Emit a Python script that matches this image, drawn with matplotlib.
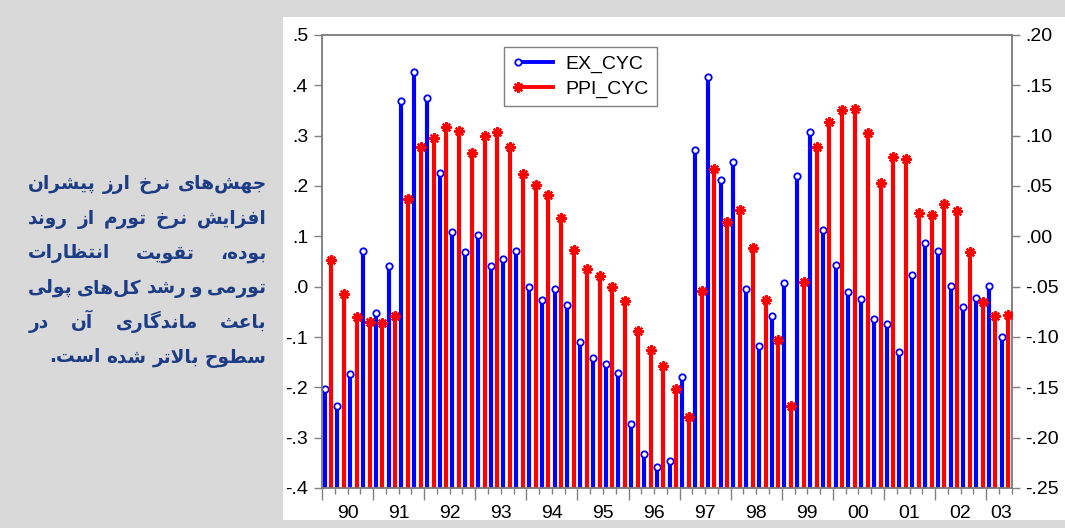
import matplotlib
matplotlib.use("Agg")
import matplotlib.pyplot as plt
import numpy as np
from matplotlib.legend_handler import HandlerLine2D
from matplotlib.lines import Line2D
from matplotlib.patches import Rectangle
from matplotlib.ticker import FuncFormatter

plt.rcParams['font.family'] = ['Liberation Sans', 'DejaVu Sans']

# quarterly data 1990Q1 - 2003Q2
year_labels = ["90", "91", "92", "93", "94", "95", "96", "97", "98", "99", "00", "01", "02", "03"]
ex_cyc = [-0.203, -0.238, -0.174, 0.071,
          -0.053, 0.042, 0.369, 0.427,
          0.375, 0.225, 0.109, 0.069,
          0.103, 0.042, 0.054, 0.071,
          0.000, -0.026, -0.005, -0.036,
          -0.110, -0.142, -0.154, -0.171,
          -0.273, -0.333, -0.359, -0.347,
          -0.180, 0.271, 0.417, 0.212,
          0.247, -0.005, -0.118, -0.058,
          0.007, 0.220, 0.307, 0.113,
          0.043, -0.010, -0.025, -0.064,
          -0.074, -0.129, 0.023, 0.087,
          0.070, 0.001, -0.041, -0.023,
          0.002, -0.100]
ppi_cyc = [-0.024, -0.057, -0.080, -0.085,
           -0.086, -0.079, 0.037, 0.089,
           0.098, 0.109, 0.105, 0.083,
           0.100, 0.104, 0.089, 0.062,
           0.051, 0.041, 0.018, -0.014,
           -0.032, -0.039, -0.050, -0.064,
           -0.094, -0.113, -0.129, -0.152,
           -0.179, -0.054, 0.067, 0.014,
           0.026, -0.012, -0.063, -0.103,
           -0.169, -0.045, 0.089, 0.114,
           0.125, 0.126, 0.103, 0.053,
           0.079, 0.077, 0.023, 0.021,
           0.032, 0.025, -0.016, -0.065,
           -0.079, -0.078]

note_lines = [
    "جهش‌های نرخ ارز پیشران",
    "افزایش نرخ تورم از روند",
    "بوده، تقویت انتظارات",
    "تورمی و رشد کل‌های پولی",
    "باعث ماندگاری آن در",
    "سطوح بالاتر شده است.",
]

# --- tiny arabic/persian shaper (matplotlib has no text shaping) ---
# isolated, final, initial, medial
FORMS = {
    'ا': ('\uFE8D', '\uFE8E', None, None),
    'آ': ('\uFE81', '\uFE82', None, None),
    'ب': ('\uFE8F', '\uFE90', '\uFE91', '\uFE92'),
    'پ': ('\uFB56', '\uFB57', '\uFB58', '\uFB59'),
    'ت': ('\uFE95', '\uFE96', '\uFE97', '\uFE98'),
    'ث': ('\uFE99', '\uFE9A', '\uFE9B', '\uFE9C'),
    'ج': ('\uFE9D', '\uFE9E', '\uFE9F', '\uFEA0'),
    'ح': ('\uFEA1', '\uFEA2', '\uFEA3', '\uFEA4'),
    'خ': ('\uFEA5', '\uFEA6', '\uFEA7', '\uFEA8'),
    'د': ('\uFEA9', '\uFEAA', None, None),
    'ر': ('\uFEAD', '\uFEAE', None, None),
    'ز': ('\uFEAF', '\uFEB0', None, None),
    'س': ('\uFEB1', '\uFEB2', '\uFEB3', '\uFEB4'),
    'ش': ('\uFEB5', '\uFEB6', '\uFEB7', '\uFEB8'),
    'ط': ('\uFEC1', '\uFEC2', '\uFEC3', '\uFEC4'),
    'ظ': ('\uFEC5', '\uFEC6', '\uFEC7', '\uFEC8'),
    'ع': ('\uFEC9', '\uFECA', '\uFECB', '\uFECC'),
    'ف': ('\uFED1', '\uFED2', '\uFED3', '\uFED4'),
    'ق': ('\uFED5', '\uFED6', '\uFED7', '\uFED8'),
    'ک': ('\uFB8E', '\uFB8F', '\uFB90', '\uFB91'),
    'گ': ('\uFB92', '\uFB93', '\uFB94', '\uFB95'),
    'ل': ('\uFEDD', '\uFEDE', '\uFEDF', '\uFEE0'),
    'م': ('\uFEE1', '\uFEE2', '\uFEE3', '\uFEE4'),
    'ن': ('\uFEE5', '\uFEE6', '\uFEE7', '\uFEE8'),
    'ه': ('\uFEE9', '\uFEEA', '\uFEEB', '\uFEEC'),
    'و': ('\uFEED', '\uFEEE', None, None),
    'ی': ('\uFBFC', '\uFBFD', '\uFBFE', '\uFBFF'),
    'لا': ('\uFEFB', '\uFEFC', None, None),
    'لآ': ('\uFEF5', '\uFEF6', None, None),
}


def shape(word):
    toks = []
    i = 0
    while i < len(word):
        if word[i] == 'ل' and i + 1 < len(word) and word[i + 1] in 'اآ':
            toks.append(word[i:i + 2])
            i += 2
        else:
            toks.append(word[i])
            i += 1
    out = []
    for k, t in enumerate(toks):
        if t not in FORMS:
            if t != '\u200c':
                out.append(t)
            continue
        prev = k > 0 and toks[k - 1] in FORMS and FORMS[toks[k - 1]][2] is not None
        nxt = FORMS[t][2] is not None and k + 1 < len(toks) and toks[k + 1] in FORMS
        f = FORMS[t]
        if prev and nxt:
            out.append(f[3])
        elif prev:
            out.append(f[1])
        elif nxt:
            out.append(f[2])
        else:
            out.append(f[0])
    return ''.join(reversed(out))


class LeftMarker(HandlerLine2D):
    def create_artists(self, *args, **kwargs):
        arts = super().create_artists(*args, **kwargs)
        for a in arts:
            a.set_markevery([0])
        return arts


W, H = 1065, 528
fig = plt.figure(figsize=(W / 100, H / 100), dpi=100, facecolor='#d9d9d9')
fig.add_artist(Rectangle((283 / W, 8 / H), 1 - 283 / W, (H - 17 - 8) / H,
                         transform=fig.transFigure, facecolor='white',
                         edgecolor='none', zorder=0))

ax = fig.add_axes([322 / W, 1 - 488 / H, (1011.7 - 322) / W, (488 - 35) / H])
ax2 = ax.twinx()

n = len(ex_cyc)
q = np.arange(n)
xb = q + 0.21
xr = q + 0.73

ax.vlines(xb, -0.4, ex_cyc, color='#0000ff', lw=3.0, zorder=2)
ax.plot(xb, ex_cyc, 'o', ms=4.6, mfc='white', mec='#0000ff', mew=1.3, zorder=3)
ax2.vlines(xr, -0.25, ppi_cyc, color='#ff0000', lw=3.0, zorder=2)
ax2.plot(xr, ppi_cyc, ls='none', marker=(8, 2, 0), ms=7.5, mec='#ff0000', mew=1.6, zorder=3)

ax.set_xlim(0, n)
ax.set_ylim(-0.4, 0.5)
ax2.set_ylim(-0.25, 0.20)
ax.set_yticks(np.arange(-4, 6) / 10)
ax2.set_yticks(np.arange(-25, 21, 5) / 100)


def fmt(d):
    return FuncFormatter(lambda v, p: f"{v:.{d}f}".replace("0.", "."))


ax.yaxis.set_major_formatter(fmt(1))
ax2.yaxis.set_major_formatter(fmt(2))

gray = '#808080'
for a in (ax, ax2):
    for s in a.spines.values():
        s.set_color(gray)
        s.set_linewidth(1.1)
    a.tick_params(axis='y', colors=gray, labelcolor='black', labelsize=14,
                  length=5.5, width=1, pad=4.5)

# year ticks long, quarter ticks short, labels at year middle
ax.set_xticks(np.arange(0, n, 4))
ax.set_xticks(np.arange(0, n + 1), minor=True)
ax.tick_params(axis='x', which='major', length=8.5, width=1, colors=gray, labelbottom=False)
ax.tick_params(axis='x', which='minor', length=4.5, width=1, colors=gray)
sec = ax.secondary_xaxis('bottom')
sec.spines['bottom'].set_visible(False)
centers = [min(4 * k + 2, n - 0.8) for k in range(len(year_labels))]
sec.set_xticks(centers, labels=year_labels)
sec.tick_params(axis='x', length=0, pad=12, labelsize=14)

handles = [Line2D([], [], color='#0000ff', lw=2.8, marker='o', ms=4.6, mfc='white',
                  mec='#0000ff', mew=1.3),
           Line2D([], [], color='#ff0000', lw=2.8, marker=(8, 2, 0), ms=7.5,
                  mec='#ff0000', mew=1.6)]
leg = ax2.legend(handles, ['EX_CYC', 'PPI_CYC'], loc='upper left',
                 bbox_to_anchor=(0.264, 0.9735), borderaxespad=0, fontsize=14,
                 numpoints=2, handlelength=2.4, handletextpad=0.35,
                 labelspacing=0.38, borderpad=0.42, fancybox=False,
                 framealpha=1, edgecolor=gray,
                 handler_map={Line2D: LeftMarker()})
leg.get_frame().set_linewidth(1)

# justified persian note on the left
renderer = fig.canvas.get_renderer()
left, right = 28.3, 266.7
txt_kw = dict(family=['DejaVu Sans'], weight='bold', size=13.4, color='#1c3c85',
              ha='right', va='baseline', transform=fig.transFigure)
for li, line in enumerate(note_lines):
    words = line.split(' ')
    yb = 1 - (189 + 34.7 * li) / H
    ts = [fig.text(0, yb, shape(w), **txt_kw) for w in words]
    widths = [t.get_window_extent(renderer).width for t in ts]
    if li < len(note_lines) - 1:
        gap = (right - left - sum(widths)) / (len(words) - 1)
    else:
        gap = 6
    x = right
    for t, w in zip(ts, widths):
        t.set_x(x / W)
        x -= w + gap

fig.savefig('out.png', dpi=100, facecolor=fig.get_facecolor())
